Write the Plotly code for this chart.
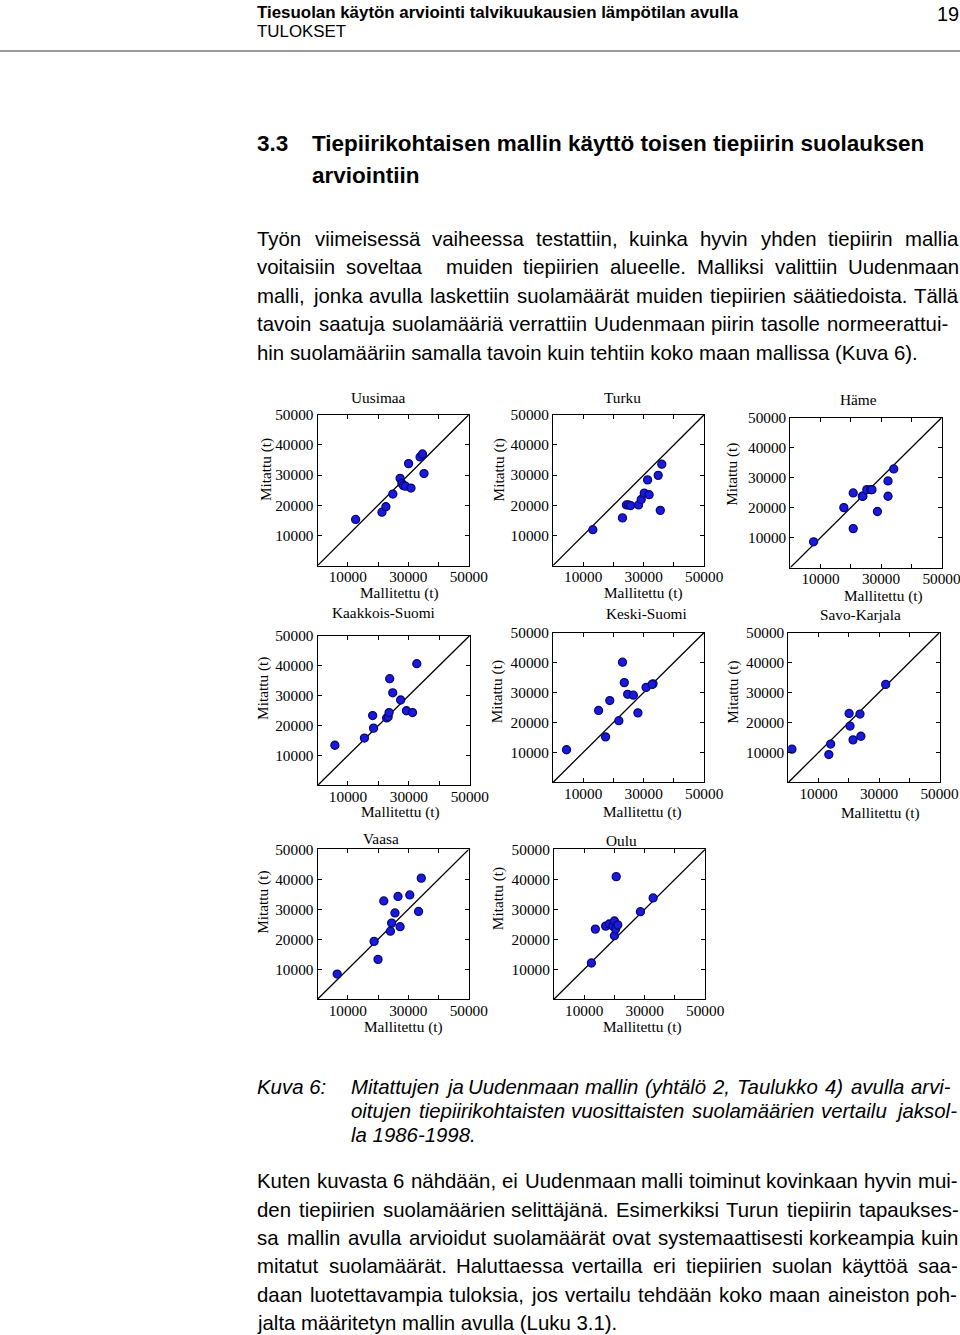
import plotly.graph_objects as go

# ---------------- data (Mallitettu, Mitattu) ----------------
regions = ["Uusimaa", "Turku", "Häme", "Kaakkois-Suomi", "Keski-Suomi",
           "Savo-Karjala", "Vaasa", "Oulu"]

uusimaa_x = [12600, 21300, 22600, 24900, 27300, 27900, 28400, 29100, 30900, 30100, 33900, 34700, 35200]
uusimaa_y = [15300, 17700, 19500, 23700, 28900, 27200, 26500, 26300, 25700, 33800, 36000, 37000, 30500]

turku_x = [13200, 23000, 24300, 25000, 25700, 28300, 29200, 30200, 31800, 31300, 34800, 36000, 35500]
turku_y = [11900, 15800, 20100, 20100, 19900, 20100, 21900, 24000, 23500, 28400, 29900, 33600, 18300]

hame_x = [7700, 17700, 20800, 20800, 23800, 24000, 25300, 26600, 27000, 28800, 32300, 32300, 34200]
hame_y = [8600, 20000, 24900, 13000, 23800, 23800, 26000, 26000, 26000, 18700, 28900, 23800, 32900]

kaakkois_x = [5700, 15400, 18400, 18100, 22700, 23200, 23500, 23700, 24700, 27300, 29200, 31200, 32600]
kaakkois_y = [13400, 15800, 19100, 23300, 22500, 22900, 24300, 35600, 30900, 28500, 24900, 24300, 40600]

keski_x = [4500, 17400, 15100, 18800, 21800, 23000, 23600, 24700, 26600, 28100, 30800, 33100, 32800]
keski_y = [10900, 15200, 24000, 27300, 20600, 40100, 33300, 29400, 29100, 23200, 31700, 32900, 32700]

savo_x = [1200, 13400, 14000, 20100, 20400, 21400, 23700, 24000, 32200]
savo_y = [11100, 9300, 12800, 23000, 18800, 14200, 22800, 15400, 32700]

vaasa_x = [6500, 18700, 20000, 21900, 24100, 24500, 25600, 26600, 27300, 30500, 33400, 34300]
vaasa_y = [8400, 19300, 13300, 32800, 22700, 25400, 28800, 34300, 24200, 34800, 29300, 40400]

oulu_x = [12400, 13700, 17100, 18300, 19500, 20000, 20000, 20400, 21100, 20600, 28600, 32800]
oulu_y = [12100, 23400, 24400, 25100, 24400, 26100, 21200, 23400, 24800, 40900, 29200, 33800]

series_x = [uusimaa_x, turku_x, hame_x, kaakkois_x, keski_x, savo_x, vaasa_x, oulu_x]
series_y = [uusimaa_y, turku_y, hame_y, kaakkois_y, keski_y, savo_y, vaasa_y, oulu_y]

AX_MIN, AX_MAX = 0, 50000
tick_vals = [0, 10000, 20000, 30000, 40000, 50000]
x_tick_text = ["", "10000", "", "30000", "", "50000"]
y_tick_text = ["", "10000", "20000", "30000", "40000", "50000"]
x_label = "Mallitettu (t)"
y_label = "Mitattu (t)"

# ---------------- page text ----------------
header_title = "Tiesuolan käytön arviointi talvikuukausien lämpötilan avulla"
header_section = "TULOKSET"
page_number = "19"
heading_num = "3.3"
heading_lines = ["Tiepiirikohtaisen mallin käyttö toisen tiepiirin suolauksen", "arviointiin"]
para1 = [
    "Työn viimeisessä vaiheessa testattiin, kuinka hyvin yhden tiepiirin mallia",
    "voitaisiin soveltaa  muiden tiepiirien alueelle. Malliksi valittiin Uudenmaan",
    "malli, jonka avulla laskettiin suolamäärät muiden tiepiirien säätiedoista. Tällä",
    "tavoin saatuja suolamääriä verrattiin Uudenmaan piirin tasolle normeerattui-",
    "hin suolamääriin samalla tavoin kuin tehtiin koko maan mallissa (Kuva 6).",
]
caption_label = "Kuva 6:"
caption = [
    "Mitattujen ja Uudenmaan mallin (yhtälö 2, Taulukko 4) avulla arvi-",
    "oitujen tiepiirikohtaisten vuosittaisten suolamäärien vertailu jaksol-",
    "la 1986-1998.",
]
para2 = [
    "Kuten kuvasta 6 nähdään, ei Uudenmaan malli toiminut kovinkaan hyvin mui-",
    "den tiepiirien suolamäärien selittäjänä. Esimerkiksi Turun tiepiirin tapaukses-",
    "sa mallin avulla arvioidut suolamäärät ovat systemaattisesti korkeampia kuin",
    "mitatut suolamäärät. Haluttaessa vertailla eri tiepiirien suolan käyttöä saa-",
    "daan luotettavampia tuloksia, jos vertailu tehdään koko maan aineiston poh-",
    "jalta määritetyn mallin avulla (Luku 3.1).",
]

# ---------------- layout geometry (target-image pixels) ----------------
FIG_W, FIG_H = 980, 1335          # figure size in page pixels
SX, SY, OY = 0.979, 0.994, 8.0     # page -> photographed picture mapping (measured)

boxes = [
    (317, 468, 414, 565), (552, 703, 414, 565), (789, 940, 417, 567),
    (317, 469, 635, 785), (552, 703, 632, 782), (787, 938, 632, 782),
    (317, 468, 849, 999), (553, 704, 849, 999),
]
title_pos = [(378, 397), (621, 397), (857, 399),
             (383, 612), (645, 613), (859, 614),
             (380, 838), (620, 840)]
ylab_pos = [(265, 469), (498, 469), (730, 474),
            (263, 688), (497, 691), (732, 692),
            (263, 902), (498, 898)]
xlab_pos = [(399, 592), (642, 592), (882, 595),
            (400, 812), (641, 812), (879, 813),
            (403, 1027), (641, 1027)]


def px(x):
    return (x / SX) / FIG_W


def py(y):
    return 1 - ((y - OY) / SY) / FIG_H


def fs(size):
    return round(size / SX, 1)


SERIF = "Liberation Serif, Times New Roman, serif"
SANS = "Arial, Liberation Sans, sans-serif"

fig = go.Figure()
layout_axes = {}
annotations = []

for i, (name, xs, ys) in enumerate(zip(regions, series_x, series_y)):
    n = "" if i == 0 else str(i + 1)
    xa, ya = "x" + n, "y" + n
    fig.add_trace(go.Scatter(
        x=[AX_MIN, AX_MAX], y=[AX_MIN, AX_MAX], mode="lines",
        line=dict(color="black", width=1.3), xaxis=xa, yaxis=ya,
        showlegend=False, hoverinfo="skip"))
    fig.add_trace(go.Scatter(
        x=xs, y=ys, mode="markers", name=name,
        marker=dict(size=8, color="#1a1ad8", line=dict(color="#08087a", width=1.3)),
        xaxis=xa, yaxis=ya, showlegend=False))
    x0, x1, y0, y1 = boxes[i]
    common = dict(range=[AX_MIN, AX_MAX], showline=True, linecolor="black", linewidth=1,
                  mirror="ticks", ticks="inside", ticklen=4, tickcolor="black",
                  tickvals=tick_vals, showgrid=False, zeroline=False, fixedrange=True,
                  tickfont=dict(family=SERIF, size=fs(15), color="black"))
    layout_axes["xaxis" + n] = dict(common, domain=[px(x0), px(x1)], anchor=ya,
                                    ticktext=x_tick_text, ticklabelstandoff=-3)
    layout_axes["yaxis" + n] = dict(common, domain=[py(y1), py(y0)], anchor=xa,
                                    ticktext=y_tick_text)
    for (lx, ly), s, ang in ((title_pos[i], name, 0), (ylab_pos[i], y_label, -90),
                             (xlab_pos[i], x_label, 0)):
        annotations.append(dict(x=px(lx), y=py(ly), xref="paper", yref="paper", text=s,
                                showarrow=False, xanchor="center", yanchor="middle",
                                textangle=ang, borderpad=0,
                                font=dict(family=SERIF, size=fs(15), color="black")))

# Arial / Helvetica advance widths (1/1000 em)
_w = {" ": 278, "!": 278, "(": 333, ")": 333, ",": 278, "-": 333, ".": 278, ":": 278,
      "A": 667, "B": 667, "C": 722, "D": 722, "E": 667, "F": 611, "G": 778, "H": 722,
      "I": 278, "J": 500, "K": 667, "L": 556, "M": 833, "N": 722, "O": 778, "P": 667,
      "R": 722, "S": 667, "T": 611, "U": 722, "V": 667, "W": 944,
      "a": 556, "b": 556, "c": 500, "d": 556, "e": 556, "f": 278, "g": 556, "h": 556,
      "i": 222, "j": 222, "k": 500, "l": 222, "m": 833, "n": 556, "o": 556, "p": 556,
      "q": 556, "r": 333, "s": 500, "t": 278, "u": 556, "v": 500, "w": 722, "x": 500,
      "y": 500, "z": 500, "ä": 556, "ö": 556, "Ä": 667, "Ö": 778}


def tw(s, size):
    return sum(_w.get(c, 556) for c in s) * size / 1000


def text(x, y, s, size=20, bold=False, italic=False, anchor="left"):
    if bold:
        s = "<b>" + s + "</b>"
    if italic:
        s = "<i>" + s + "</i>"
    annotations.append(dict(x=px(x), y=py(y), xref="paper", yref="paper", text=s,
                            showarrow=False, xanchor=anchor, yanchor="middle",
                            borderpad=0, borderwidth=0,
                            font=dict(family=SANS, size=fs(size), color="black")))


def justified(x0, x1, y, line, size=20, italic=False):
    words = line.split(" ")
    if x1 is None or len(words) < 2:
        text(x0, y, line, size=size, italic=italic)
        return
    # an empty word (double space) just widens that gap
    widths = [tw(w_, size) for w_ in words]
    gap = (x1 - x0 - sum(widths)) / (len(words) - 1)
    cx = x0
    for w_, wd in zip(words, widths):
        if w_:
            text(cx, y, w_, size=size, italic=italic)
        cx += wd + gap


text(257, 12, header_title, size=16.5, bold=True)
text(257, 31, header_section, size=16.5)
text(957, 13, page_number, size=19.5, anchor="right")

text(257, 143, heading_num, size=22, bold=True)
text(311, 143, heading_lines[0], size=22, bold=True)
text(311, 175, heading_lines[1], size=22, bold=True)

p1_right = [956, 956, 956, 945, None]
for k, line in enumerate(para1):
    justified(257, p1_right[k], 238 + k * 28.5, line)

text(257, 1087, caption_label, size=20, italic=True)
cap_right = [948, 951, None]
for k, line in enumerate(caption):
    justified(350, cap_right[k], 1087 + k * 24, line, italic=True)

p2_right = [955, 955, 956, 955, 955, None]
for k, line in enumerate(para2):
    justified(257, p2_right[k], 1181 + k * 28.4, line)

fig.update_layout(
    width=FIG_W, height=FIG_H, margin=dict(l=0, r=0, t=0, b=0),
    paper_bgcolor="white", plot_bgcolor="white",
    annotations=annotations,
    shapes=[dict(type="line", xref="paper", yref="paper", x0=0, x1=1,
                 y0=py(50), y1=py(50), line=dict(color="#9a9a9a", width=2))],
    **layout_axes,
)

no_margin = ("document.documentElement.style.margin='0';"
             "document.body.style.margin='0';")
fig.write_html("out.html", config={"displayModeBar": False}, post_script=no_margin)
